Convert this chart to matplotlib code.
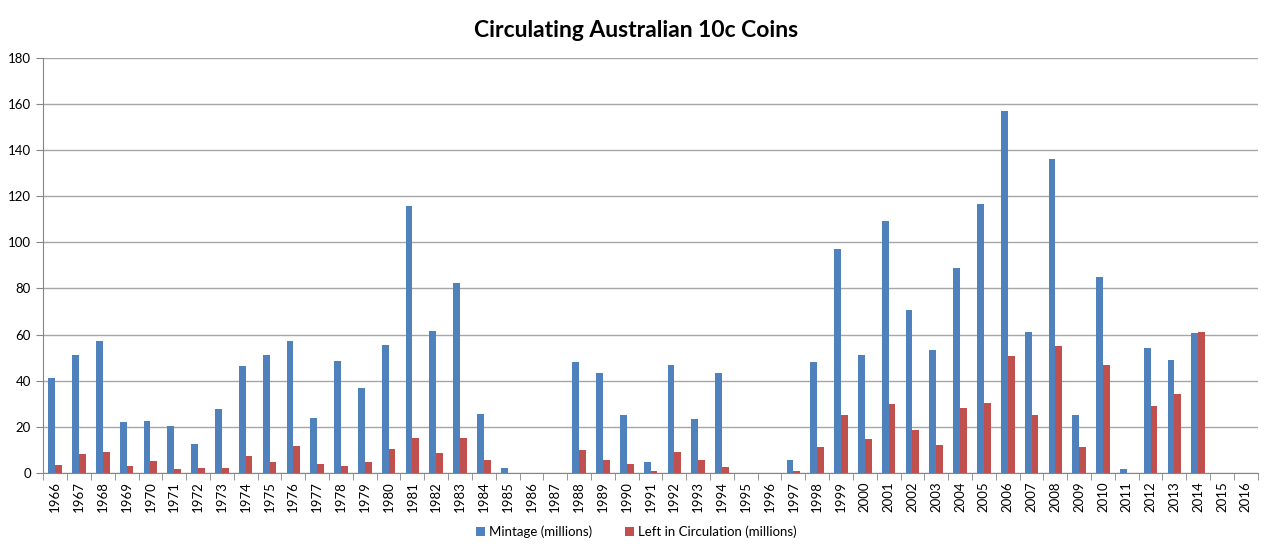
import numpy as np
import matplotlib
matplotlib.use("Agg")
import matplotlib.pyplot as plt

# Данные
years = list(range(1966, 2017))
mintage = [41, 51, 57, 22, 22.5, 20.5, 12.5, 27.5, 46.5, 51,
           57, 24, 48.5, 37, 55.5, 116, 61.5, 82.5, 25.5, 2,
           0, 0, 48, 43.5, 25, 4.5, 47, 23.5, 43.5, 0,
           0, 5.5, 48, 97, 51, 109.5, 70.5, 53.5, 89, 116.5,
           157, 61, 136, 25, 85, 1.5, 54, 49, 60.5, 0, 0]
left_in_circ = [3.5, 8, 9, 3, 5, 1.5, 2, 2, 7.5, 4.5,
                11.5, 4, 3, 4.5, 10.5, 15, 8.5, 15, 5.5, 0,
                0, 0, 10, 5.5, 4, 1, 9, 5.5, 2.5, 0,
                0, 1, 11, 25, 14.5, 30, 18.5, 12, 28, 30.5,
                50.5, 25, 55, 11, 47, 0, 29, 34, 61, 0, 0]

plt.rcParams['font.family'] = ['Lato', 'DejaVu Sans']

fig = plt.figure(figsize=(12.73, 5.53), dpi=100)
ax = fig.add_axes([0.034, 0.145, 0.954, 0.75])

x = np.arange(len(years))
w = 0.286
ax.bar(x - w / 2, mintage, w, color="#4F81BD", label="Mintage (millions)", zorder=3)
ax.bar(x + w / 2, left_in_circ, w, color="#C0504D", label="Left in Circulation (millions)", zorder=3)

ax.set_xlim(-0.5, len(years) - 0.5)
ax.set_ylim(0, 180)
ax.set_yticks(range(0, 181, 20))
ax.yaxis.grid(True, color="#A6A6A6", linewidth=1, zorder=0)

ax.set_xticks(x)
ax.set_xticklabels([str(y) for y in years], rotation=90, fontsize=9.5)
ax.set_xticks(np.arange(-0.5, len(years)), minor=True)
ax.tick_params(axis='x', which='major', length=0, pad=6)
ax.tick_params(axis='x', which='minor', length=5, color="#868686", direction='out')
ax.tick_params(axis='y', length=5, color="#868686", labelsize=9.5, pad=4)

for s in ['top', 'right']:
    ax.spines[s].set_visible(False)
ax.spines['left'].set_color("#868686")
ax.spines['bottom'].set_color("#868686")

fig.suptitle("Circulating Australian 10c Coins", fontsize=16.5, fontweight='bold', y=0.963)

fig.legend(loc='lower center', ncol=2, frameon=False, fontsize=9.5,
           bbox_to_anchor=(0.5, 0.006), handlelength=0.7, handleheight=0.7,
           columnspacing=2.5, handletextpad=0.3)

plt.savefig("out.png", dpi=100)
